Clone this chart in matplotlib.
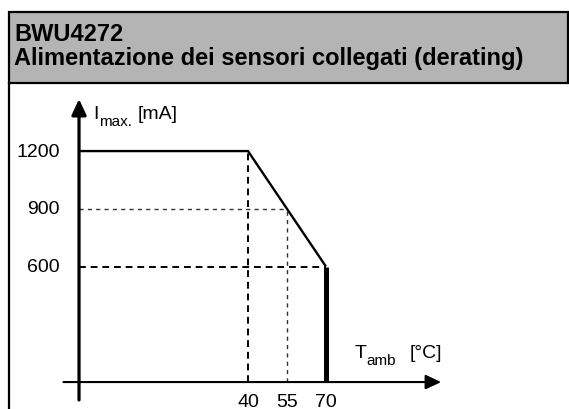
import matplotlib
matplotlib.use("Agg")
import matplotlib.pyplot as plt
from matplotlib.patches import Rectangle

plt.rcParams['font.family'] = ['Liberation Sans', 'DejaVu Sans']

# ---------------- data ----------------
title_code = "BWU4272"
title_text = "Alimentazione dei sensori collegati (derating)"

curve_T = [-25, 40, 70]          # derating curve, starts at the y-axis
curve_I = [1200, 1200, 600]
cutoff_T = 70                    # max ambient temperature
cutoff_I = 600

ref_T = [40, 55, 70]             # marked temperatures
ref_I = [1200, 900, 600]         # current at those temperatures
ytick_vals = [1200, 900, 600]

axis_T0 = -25                    # where the y-axis sits
x_label = ["T", "amb", "[°C]"]   # symbol, subscript, unit
y_label = ["I", "max.", "[mA]"]

# ---------------- figure ----------------
W, H = 569, 410
fig = plt.figure(figsize=(W / 100, H / 100), dpi=100)
ax = fig.add_axes([0, 0, 1, 1])
ax.set_xlim(-55.4, 163.5)
ax.set_ylim(-140, 1990)
ax.axis('off')

def fx(px):
    return px / W

def fy(py):
    return 1 - py / H

# header box
ax.add_patch(Rectangle((fx(9), fy(84)), fx(568) - fx(9), fy(12.5) - fy(84),
                       transform=ax.transAxes, facecolor='#b4b4b4',
                       edgecolor='black', lw=1.6, zorder=1))
ax.plot([fx(9), fx(9)], [fy(84), fy(415)], transform=ax.transAxes,
        color='black', lw=1.6, clip_on=False)

ax.text(fx(14), fy(41), title_code, transform=ax.transAxes, fontsize=17,
        fontweight='bold', va='baseline', ha='left')
ax.text(fx(14), fy(65), title_text, transform=ax.transAxes, fontsize=17,
        fontweight='bold', va='baseline', ha='left')

# axes with arrows
arrow = dict(arrowstyle='-|>,head_length=0.47,head_width=0.22',
             mutation_scale=20, color='black', shrinkA=0, shrinkB=0)
ax.annotate('', xy=(114.3, 0), xytext=(-31, 0),
            arrowprops=dict(arrow, lw=1.5))
ax.annotate('', xy=(axis_T0, 1470), xytext=(axis_T0, -93),
            arrowprops=dict(arrow, lw=2.3))

# dashed reference lines
ax.plot([ref_T[0], ref_T[0]], [0, ref_I[0]], color='black', lw=1.4,
        dashes=(3.5, 2.5))
ax.plot([ref_T[1], ref_T[1]], [0, ref_I[1]], color='#333333', lw=1.0,
        dashes=(3, 3))
ax.plot([axis_T0, ref_T[1]], [ref_I[1], ref_I[1]], color='#333333', lw=1.0,
        dashes=(3, 3))
ax.plot([axis_T0, ref_T[2]], [ref_I[2], ref_I[2]], color='black', lw=1.4,
        dashes=(3.5, 2.5))

# derating curve
ax.plot(curve_T, curve_I, color='black', lw=1.7, solid_capstyle='butt',
        solid_joinstyle='miter')
ax.plot([cutoff_T, cutoff_T], [0, cutoff_I], color='black', lw=3.6,
        solid_capstyle='butt')

# tick labels
for v in ytick_vals:
    ax.text(-32.3, v, str(v), fontsize=14, ha='right', va='center')
for t in ref_T:
    ax.text(t, -125, str(t), fontsize=14, ha='center', va='baseline')

# axis labels with subscripts (pixel positions from the reference)
def label(parts, x_px, base_px):
    ys = [base_px, base_px + 7.5, base_px]
    sizes = [14, 11, 14]
    for s, xp, yp, fs in zip(parts, x_px, ys, sizes):
        ax.text(fx(xp), fy(yp), s, transform=ax.transAxes, fontsize=fs,
                ha='left', va='baseline')

label(y_label, (93, 99, 138), 119)
label(x_label, (355, 366, 410), 358)

fig.savefig("out.png", dpi=100)
